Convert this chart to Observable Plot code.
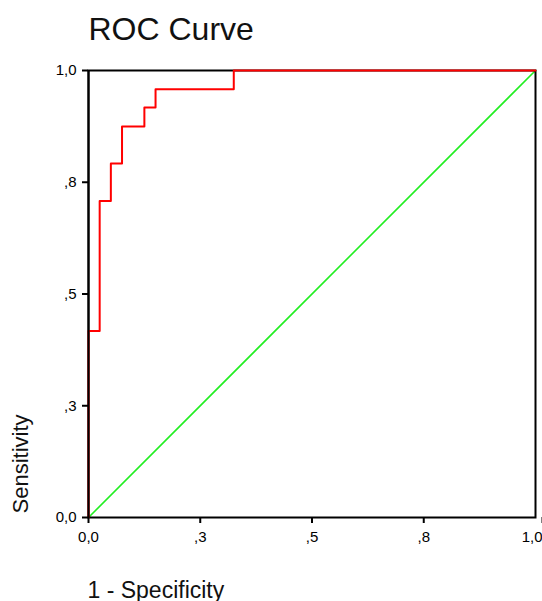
<!DOCTYPE html>
<html>
<head>
<meta charset="utf-8">
<script src="https://cdn.jsdelivr.net/npm/d3@7"></script>
<script src="https://cdn.jsdelivr.net/npm/@observablehq/plot@0.6"></script>
<style>
  html, body { margin: 0; padding: 0; background: #fff; }
  svg { display: block; }
</style>
</head>
<body>
<div id="chart"></div>
<script>
// ROC curve step points (1 - specificity, sensitivity)
const fpr = [0, 0, 0.025, 0.05, 0.075, 0.125, 0.15, 0.325, 1];
const tpr = [0, 0.417, 0.708, 0.792, 0.875, 0.917, 0.958, 1, 1];
// reference diagonal
const refX = [0, 1];
const refY = [0, 1];
// SPSS-style tick labels
const tickValues = [0, 0.25, 0.5, 0.75, 1];
const tickLabels = ["0,0", ",3", ",5", ",8", "1,0"];
const titleText = "ROC Curve";
const xLabel = "1 - Specificity";
const yLabel = "Sensitivity";

const roc = fpr.map((x, i) => ({x, y: tpr[i]}));
const diag = refX.map((x, i) => ({x, y: refY[i]}));
const fmt = d => tickLabels[tickValues.indexOf(d)];

const chart = Plot.plot({
  width: 542,
  height: 601,
  marginLeft: 88,
  marginRight: 7,
  marginTop: 70,
  marginBottom: 84,
  style: {fontFamily: "Liberation Sans, Arial, sans-serif", fontSize: "15px", color: "#000", background: "#fff"},
  x: {domain: [0, 1]},
  y: {domain: [0, 1]},
  marks: [
    Plot.line(diag, {x: "x", y: "y", stroke: "#22ee22", strokeWidth: 1.6}),
    Plot.frame({stroke: "#000", strokeWidth: 2}),
    Plot.line(roc, {x: "x", y: "y", curve: "step-after", stroke: "#ff0000", strokeWidth: 2}),
    Plot.ruleX([0], {stroke: "#000", strokeWidth: 2}),
    Plot.axisX(tickValues.slice(0, -1), {tickFormat: fmt, tickSize: 6, tickPadding: 8, strokeWidth: 2, fontSize: 15,
      label: null}),
    Plot.axisX(tickValues.slice(-1), {tickFormat: fmt, tickSize: 6, tickPadding: 8, strokeWidth: 2, fontSize: 15,
      textAnchor: "end", dx: 7, label: null}),
    Plot.axisY({ticks: tickValues, tickFormat: fmt, tickSize: 6, tickPadding: 6, strokeWidth: 2, fontSize: 15,
      label: null}),
    Plot.text([xLabel], {frameAnchor: "bottom-left", lineAnchor: "bottom", dy: 80, dx: -1, text: d => d, textAnchor: "start", fontSize: 23, fill: "#111"}),
    Plot.text([yLabel], {frameAnchor: "bottom-left", lineAnchor: "bottom", dx: -61, dy: -4, rotate: -90, text: d => d, textAnchor: "start", fontSize: 22, fill: "#111"}),
    Plot.text([titleText], {frameAnchor: "top-left", lineAnchor: "top", dy: -53, text: d => d, textAnchor: "start", fontSize: 32, fill: "#111"})
  ]
});
document.getElementById("chart").appendChild(chart);
</script>
</body>
</html>
